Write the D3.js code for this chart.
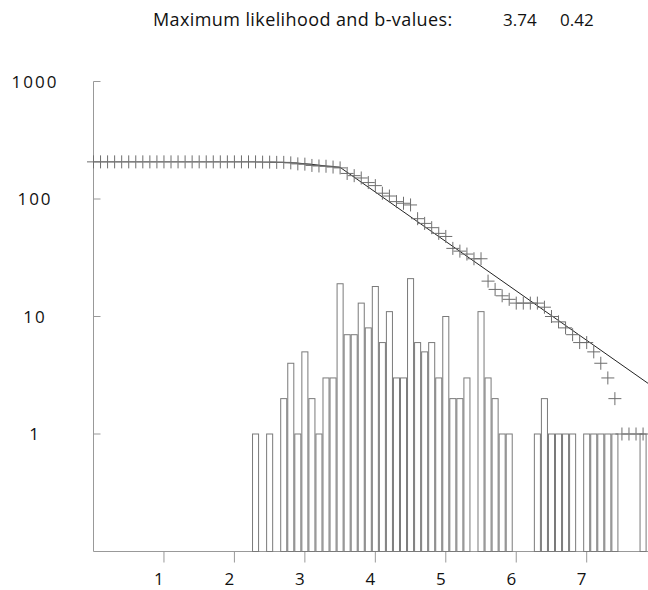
<!DOCTYPE html>
<html>
<head>
<meta charset="utf-8">
<script src="https://cdn.jsdelivr.net/npm/d3@7"></script>
<style>
  body { margin: 0; background: #fff; }
  text { font-family: 'Open Sans', sans-serif; fill: #111; }
</style>
</head>
<body>
<div id="app"></div>
<script>
// histogram (non-empty bins, 0.1 magnitude steps)
var histMag = [2.3, 2.5, 2.7, 2.8, 2.9, 3.0, 3.1, 3.2, 3.3, 3.4, 3.5, 3.6, 3.7, 3.8, 3.9,
    4.0, 4.1, 4.2, 4.3, 4.4, 4.5, 4.6, 4.7, 4.8, 4.9, 5.0, 5.1, 5.2, 5.3, 5.5, 5.6,
    5.7, 5.8, 5.9, 6.3, 6.4, 6.5, 6.6, 6.7, 6.8, 7.0, 7.1, 7.2, 7.3, 7.4, 7.8];
var histCount = [1, 1, 2, 4, 1, 5, 2, 1, 3, 3, 19, 7, 7, 13, 8,
    18, 6, 11, 3, 3, 21, 6, 5, 6, 3, 10, 2, 2, 3, 11, 3,
    2, 1, 1, 1, 2, 1, 1, 1, 1, 1, 1, 1, 1, 1, 1];

// cumulative number, magnitudes 0.0 .. 7.8
var cumMag = d3.range(0, 79).map(function (i) { return i / 10; });
var cumCount = [207, 207, 207, 207, 207, 207, 207, 207, 207, 207,
    207, 207, 207, 207, 207, 207, 207, 207, 207, 207,
    207, 207, 207, 207, 206, 206, 205, 205, 203, 199,
    198, 193, 191, 190, 187, 184, 165, 158, 151, 138,
    130, 112, 106, 95, 92, 89, 68, 62, 57, 51,
    48, 38, 36, 34, 31, 31, 20, 17, 15, 14,
    13, 13, 13, 13, 12, 10, 9, 8, 7, 6,
    6, 5, 4, 3, 2, 1, 1, 1, 1];

// fitted curve
var fitMag = [2.5, 2.7, 2.9, 3.1, 3.3, 3.5, 7.87];
var fitCount = [206, 205, 202, 197, 191, 186, 2.7];

var xTicks = [1, 2, 3, 4, 5, 6, 7];
var yTicks = [1, 10, 100, 1000];

var width = 648, height = 590;

var svg = d3.select('#app').append('svg')
    .attr('width', width)
    .attr('height', height);

var x = d3.scaleLinear().domain([0, 7.87]).range([93.5, 648]);
var y = d3.scaleLog().domain([0.1, 1000]).range([551.5, 81.5]);

// axes
svg.append('line')
    .attr('x1', x(0)).attr('x2', x(7.87))
    .attr('y1', y(0.1)).attr('y2', y(0.1))
    .attr('stroke', '#999');
svg.append('line')
    .attr('x1', x(0)).attr('x2', x(0))
    .attr('y1', y(0.1)).attr('y2', y(1000))
    .attr('stroke', '#999');

svg.selectAll('.xtick')
    .data(xTicks)
    .enter()
    .append('line')
    .attr('x1', d => x(d)).attr('x2', d => x(d))
    .attr('y1', y(0.1)).attr('y2', y(0.1) + 11)
    .attr('stroke', '#999');

svg.selectAll('.xlab')
    .data(xTicks)
    .enter()
    .append('text')
    .attr('x', d => x(d) - 5)
    .attr('y', 585)
    .attr('text-anchor', 'middle')
    .attr('font-size', 17)
    .text(d => d);

svg.selectAll('.ytick')
    .data(yTicks)
    .enter()
    .append('line')
    .attr('x1', x(0)).attr('x2', x(0) + 7)
    .attr('y1', d => y(d)).attr('y2', d => y(d))
    .attr('stroke', '#999');

svg.selectAll('.ylab')
    .data(yTicks)
    .enter()
    .append('text')
    .attr('x', 35)
    .attr('y', d => y(d))
    .attr('dy', '0.36em')
    .attr('text-anchor', 'middle')
    .attr('font-size', 17)
    .style('letter-spacing', '2px')
    .text(d => d);

// histogram bars
var binW = x(0.1) - x(0);
svg.selectAll('rect')
    .data(histMag)
    .enter()
    .append('rect')
    .attr('x', d => x(d) - binW / 2 + 0.5)
    .attr('y', (d, i) => y(histCount[i]))
    .attr('width', binW - 1)
    .attr('height', (d, i) => y(0.1) - y(histCount[i]))
    .attr('fill', 'none')
    .attr('stroke', '#7a7a7a');

// fitted line
var line = d3.line()
    .x(d => x(d[0]))
    .y(d => y(d[1]));
svg.append('path')
    .datum(fitMag.map((m, i) => [m, fitCount[i]]))
    .attr('d', line)
    .attr('fill', 'none')
    .attr('stroke', '#222')
    .attr('stroke-width', 1);

// cumulative crosses
var cs = 6.5;
var cross = svg.selectAll('.cross')
    .data(cumMag)
    .enter()
    .append('g')
    .attr('transform', (d, i) => 'translate(' + x(d) + ',' + y(cumCount[i]) + ')');
cross.append('line')
    .attr('x1', -cs).attr('x2', cs)
    .attr('stroke', '#6e6e6e');
cross.append('line')
    .attr('y1', -cs).attr('y2', cs)
    .attr('stroke', '#6e6e6e');

// title
svg.append('text')
    .attr('x', 153).attr('y', 26)
    .attr('font-size', 18)
    .style('letter-spacing', '0.4px')
    .text('Maximum likelihood and b-values:');
svg.append('text')
    .attr('x', 503).attr('y', 26)
    .attr('font-size', 17)
    .text('3.74');
svg.append('text')
    .attr('x', 560).attr('y', 26)
    .attr('font-size', 17)
    .text('0.42');
</script>
</body>
</html>
